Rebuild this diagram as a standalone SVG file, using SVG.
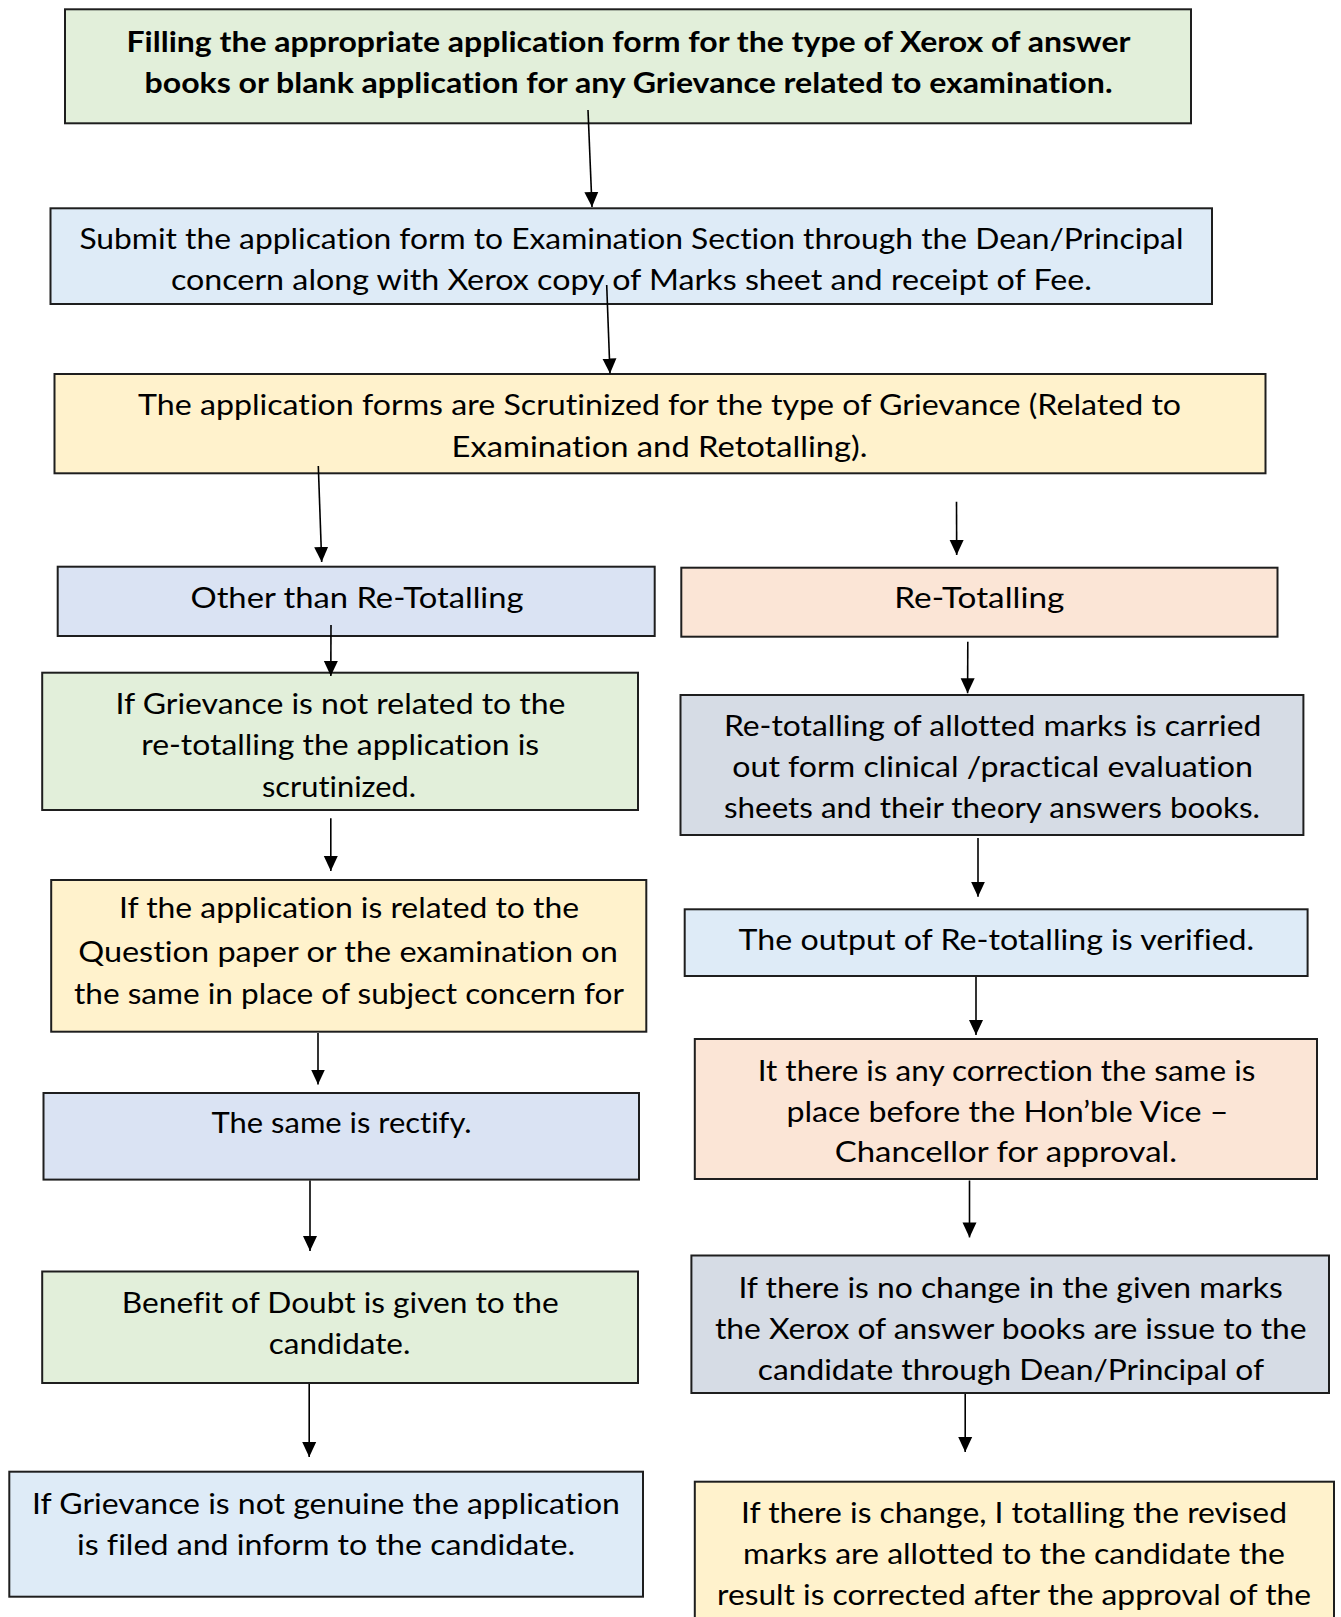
<svg xmlns="http://www.w3.org/2000/svg" width="1341" height="1617" viewBox="0 0 1341 1617">
<defs>
<style>
.box{stroke:#1e1e1e;stroke-width:2}
.g{fill:#e2efda}.b{fill:#deebf7}.y{fill:#fff2cc}.l{fill:#dae3f3}.p{fill:#fbe5d6}.s{fill:#d6dce5}
text{font-family:Lato,"Open Sans","Liberation Sans",sans-serif;font-size:28px;fill:#000;text-anchor:middle;font-variant-ligatures:none;font-feature-settings:"liga" 0,"dlig" 0}
.bold{font-weight:bold}
.conn line{stroke:#000;stroke-width:1.6;fill:none}
</style>
<marker id="ah" markerUnits="userSpaceOnUse" markerWidth="16" markerHeight="16" refX="15" refY="7" orient="auto" viewBox="0 0 16 14">
<path d="M0,0 L15,7 L0,14 z" fill="#000"/>
</marker>
</defs>
<rect width="1341" height="1617" fill="#fff"/>

<g id="n1"><rect class="box g" x="65" y="9.3" width="1126" height="114"/>
<text class="bold" x="628.5" y="51.5" textLength="1004" lengthAdjust="spacingAndGlyphs">Filling the appropriate application form for the type of Xerox of answer</text>
<text class="bold" x="628.5" y="92.5" textLength="968" lengthAdjust="spacingAndGlyphs">books or blank application for any Grievance related to examination.</text></g>

<g id="n2"><rect class="box b" x="50.5" y="208.3" width="1161.5" height="95.7"/>
<text x="631.4" y="249" textLength="1104" lengthAdjust="spacingAndGlyphs">Submit the application form to Examination Section through the Dean/Principal</text>
<text x="631.4" y="290" textLength="921" lengthAdjust="spacingAndGlyphs">concern along with Xerox copy of Marks sheet and receipt of Fee.</text></g>

<g id="n3"><rect class="box y" x="54.5" y="374" width="1211" height="99.3"/>
<text x="659.6" y="415" textLength="1043" lengthAdjust="spacingAndGlyphs">The application forms are Scrutinized for the type of Grievance (Related to</text>
<text x="659.6" y="456.7" textLength="416" lengthAdjust="spacingAndGlyphs">Examination and Retotalling).</text></g>

<g id="n4"><rect class="box l" x="57.7" y="566.7" width="597" height="69.3"/>
<text x="357" y="608" textLength="333" lengthAdjust="spacingAndGlyphs">Other than Re-Totalling</text></g>

<g id="n5"><rect class="box p" x="681.3" y="567.7" width="596.2" height="69"/>
<text x="979.3" y="608" textLength="170" lengthAdjust="spacingAndGlyphs">Re-Totalling</text></g>

<g id="n6"><rect class="box g" x="42.2" y="672.7" width="595.8" height="137.3"/>
<text x="340.5" y="713.5" textLength="450" lengthAdjust="spacingAndGlyphs">If Grievance is not related to the</text>
<text x="340.2" y="755" textLength="398" lengthAdjust="spacingAndGlyphs">re-totalling the application is</text>
<text x="339" y="796.7" textLength="154" lengthAdjust="spacingAndGlyphs">scrutinized.</text></g>

<g id="n7"><rect class="box y" x="51.2" y="880" width="595.1" height="151.7"/>
<text x="349" y="917.5" textLength="460" lengthAdjust="spacingAndGlyphs">If the application is related to the</text>
<text x="348" y="962" textLength="539.6" lengthAdjust="spacingAndGlyphs">Question paper or the examination on</text>
<text x="349" y="1003.5" textLength="550" lengthAdjust="spacingAndGlyphs">the same in place of subject concern for</text></g>

<g id="n8"><rect class="box l" x="43.5" y="1093" width="595.5" height="86.6"/>
<text x="341.6" y="1133" textLength="260" lengthAdjust="spacingAndGlyphs">The same is rectify.</text></g>

<g id="n9"><rect class="box g" x="42.2" y="1271.5" width="595.8" height="111.5"/>
<text x="340.2" y="1313" textLength="436.8" lengthAdjust="spacingAndGlyphs">Benefit of Doubt is given to the</text>
<text x="339.6" y="1354" textLength="141.6" lengthAdjust="spacingAndGlyphs">candidate.</text></g>

<g id="n10"><rect class="box b" x="9.3" y="1471.7" width="633.7" height="125"/>
<text x="326" y="1514" textLength="587.8" lengthAdjust="spacingAndGlyphs">If Grievance is not genuine the application</text>
<text x="326" y="1555" textLength="498" lengthAdjust="spacingAndGlyphs">is filed and inform to the candidate.</text></g>

<g id="n11"><rect class="box s" x="680.5" y="695" width="622.9" height="140"/>
<text x="992.6" y="735.5" textLength="537.4" lengthAdjust="spacingAndGlyphs">Re-totalling of allotted marks is carried</text>
<text x="992.6" y="776.5" textLength="520.7" lengthAdjust="spacingAndGlyphs">out form clinical /practical evaluation</text>
<text x="992" y="818" textLength="536" lengthAdjust="spacingAndGlyphs">sheets and their theory answers books.</text></g>

<g id="n12"><rect class="box b" x="684.7" y="909.3" width="622.9" height="66.7"/>
<text x="996.4" y="950" textLength="515.6" lengthAdjust="spacingAndGlyphs">The output of Re-totalling is verified.</text></g>

<g id="n13"><rect class="box p" x="694.8" y="1039" width="622.2" height="140"/>
<text x="1006.5" y="1080.5" textLength="497.7" lengthAdjust="spacingAndGlyphs">It there is any correction the same is</text>
<text x="1007.4" y="1121.5" textLength="442" lengthAdjust="spacingAndGlyphs">place before the Hon’ble Vice –</text>
<text x="1005.9" y="1162" textLength="342.3" lengthAdjust="spacingAndGlyphs">Chancellor for approval.</text></g>

<g id="n14"><rect class="box s" x="691.4" y="1255.5" width="637.6" height="137.5"/>
<text x="1010.6" y="1297.5" textLength="544.3" lengthAdjust="spacingAndGlyphs">If there is no change in the given marks</text>
<text x="1010.8" y="1338.5" textLength="591.7" lengthAdjust="spacingAndGlyphs">the Xerox of answer books are issue to the</text>
<text x="1010.9" y="1379.5" textLength="506.3" lengthAdjust="spacingAndGlyphs">candidate through Dean/Principal of</text></g>

<g id="n15"><rect class="box y" x="694.8" y="1481.7" width="639.2" height="160"/>
<text x="1014" y="1522.5" textLength="546" lengthAdjust="spacingAndGlyphs">If there is change, I totalling the revised</text>
<text x="1014" y="1564" textLength="542" lengthAdjust="spacingAndGlyphs">marks are allotted to the candidate the</text>
<text x="1014" y="1605" textLength="594" lengthAdjust="spacingAndGlyphs">result is corrected after the approval of the</text></g>

<g id="connectors" class="conn">
<line x1="588" y1="110" x2="592" y2="207" marker-end="url(#ah)"/>
<line x1="606.7" y1="285" x2="610" y2="373.5" marker-end="url(#ah)"/>
<line x1="318.3" y1="466" x2="321.7" y2="562" marker-end="url(#ah)"/>
<line x1="956.5" y1="501.7" x2="956.7" y2="555" marker-end="url(#ah)"/>
<line x1="331" y1="625" x2="330.8" y2="676" marker-end="url(#ah)"/>
<line x1="330.8" y1="818.3" x2="330.8" y2="871" marker-end="url(#ah)"/>
<line x1="318" y1="1033" x2="318" y2="1084.5" marker-end="url(#ah)"/>
<line x1="310" y1="1180.5" x2="310" y2="1251" marker-end="url(#ah)"/>
<line x1="309.2" y1="1384" x2="309.2" y2="1457" marker-end="url(#ah)"/>
<line x1="967.8" y1="641.7" x2="967.6" y2="693.3" marker-end="url(#ah)"/>
<line x1="978" y1="838" x2="978" y2="896.7" marker-end="url(#ah)"/>
<line x1="976" y1="977" x2="976" y2="1035" marker-end="url(#ah)"/>
<line x1="969.5" y1="1180.5" x2="969.5" y2="1237.4" marker-end="url(#ah)"/>
<line x1="965.2" y1="1394" x2="965.2" y2="1452" marker-end="url(#ah)"/>
</g>
</svg>
